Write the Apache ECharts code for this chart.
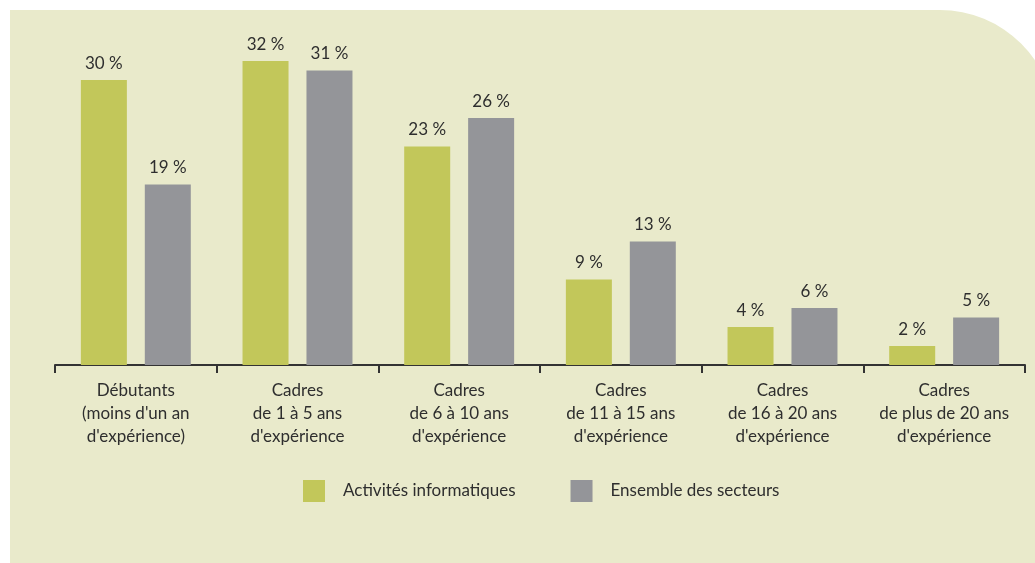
<!DOCTYPE html>
<html>
<head>
<meta charset="utf-8">
<script src="https://cdn.jsdelivr.net/npm/echarts@6/dist/echarts.min.js"></script>
<style>
  html, body { margin: 0; padding: 0; background: #fff; }
  #chart { width: 1035px; height: 563px; }
</style>
</head>
<body>
<div id="chart"></div>
<script>
// catégories et valeurs (en %)
const categories = [
  'Débutants\n(moins d\'un an\nd\'expérience)',
  'Cadres\nde 1 à 5 ans\nd\'expérience',
  'Cadres\nde 6 à 10 ans\nd\'expérience',
  'Cadres\nde 11 à 15 ans\nd\'expérience',
  'Cadres\nde 16 à 20 ans\nd\'expérience',
  'Cadres\nde plus de 20 ans\nd\'expérience'
];
const informatique = [30, 32, 23, 9, 4, 2];
const ensemble = [19, 31, 26, 13, 6, 5];
const seriesNames = ['Activités informatiques', 'Ensemble des secteurs'];

const FONT = 'Lato';
const TXT = '#2e2e2e';

const chart = echarts.init(document.getElementById('chart'));

const labelStyle = {
  show: true,
  position: 'top',
  distance: 8,
  formatter: '{c} %',
  color: TXT,
  fontFamily: FONT,
  fontSize: 17
};

const option = {
  backgroundColor: '#ffffff',
  animation: false,
  graphic: [{
    type: 'rect',
    z: -10,
    silent: true,
    shape: { x: 10, y: 10, width: 1045, height: 600, r: [0, 115, 0, 0] },
    style: { fill: '#e9eacb' }
  }],
  legend: {
    data: seriesNames,
    left: 303,
    top: 480,
    padding: 0,
    itemWidth: 22,
    itemHeight: 22,
    itemGap: 55,
    icon: 'rect',
    textStyle: {
      color: TXT,
      fontFamily: FONT,
      fontSize: 17,
      padding: [0, 0, 0, 13]
    }
  },
  grid: {
    left: 55,
    right: 10,
    top: 42,
    bottom: 198,
    containLabel: false
  },
  xAxis: {
    type: 'category',
    data: categories,
    axisLine: { lineStyle: { color: '#333', width: 2 } },
    axisTick: { show: true, length: 8, lineStyle: { color: '#333', width: 2 } },
    axisLabel: {
      color: TXT,
      fontFamily: FONT,
      fontSize: 17,
      lineHeight: 23,
      margin: 14,
      interval: 0
    }
  },
  yAxis: {
    type: 'value',
    min: 0,
    max: 34,
    show: false,
    splitLine: { show: false }
  },
  series: [
    {
      name: seriesNames[0],
      type: 'bar',
      data: informatique,
      barWidth: 46,
      barGap: '39%',
      itemStyle: { color: '#c2c75a' },
      label: labelStyle
    },
    {
      name: seriesNames[1],
      type: 'bar',
      data: ensemble,
      barWidth: 46,
      itemStyle: { color: '#949599' },
      label: labelStyle
    }
  ]
};

chart.setOption(option);
</script>
</body>
</html>
